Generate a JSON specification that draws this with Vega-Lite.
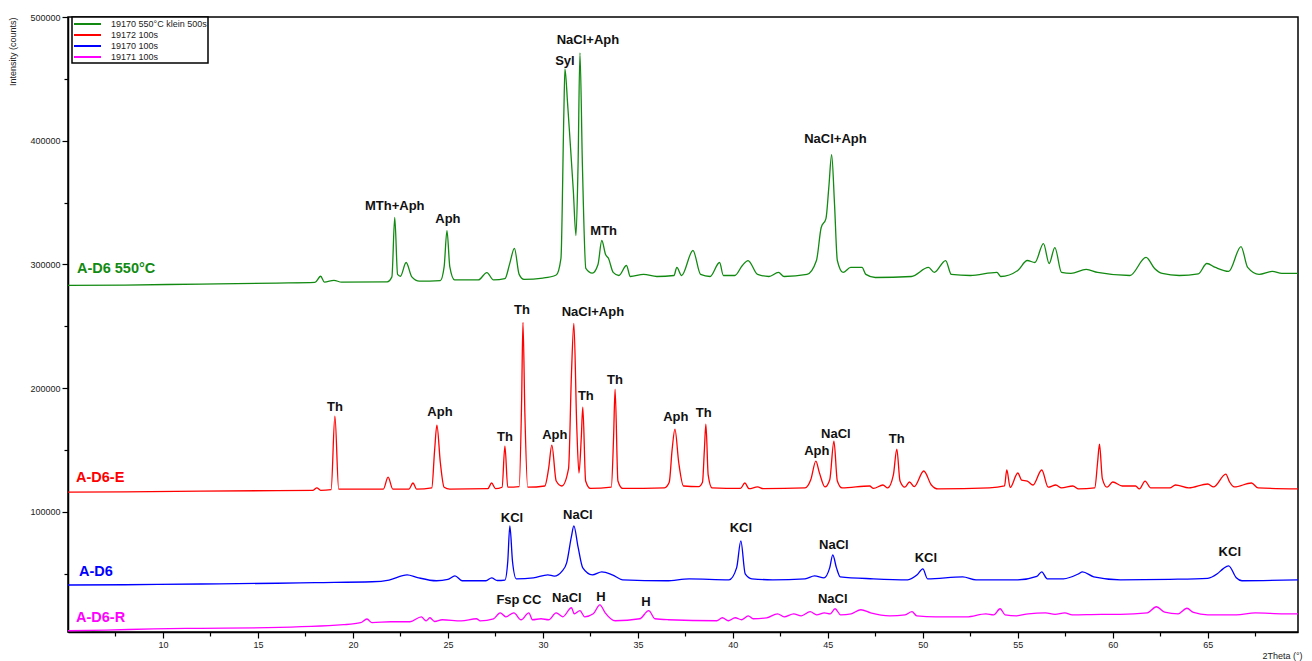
{
  "$schema": "https://vega.github.io/schema/vega-lite/v6.json",
  "width": 1230,
  "height": 615,
  "autosize": "none",
  "padding": {"left": 68, "top": 17, "right": 14, "bottom": 29},
  "background": "white",
  "config": {
    "view": {"stroke": "black", "strokeWidth": 1.5},
    "font": "Liberation Sans"
  },
  "datasets": {
    "names": [
      {"s": "G", "name": "19170 550°C klein 500s"},
      {"s": "R", "name": "19172 100s"},
      {"s": "B", "name": "19170 100s"},
      {"s": "M", "name": "19171 100s"}
    ],
    "xrd": [
      {"s":"G","x":5.0,"y":283100},{"s":"G","x":8.0,"y":283400},{"s":"G","x":12.0,"y":284200},{"s":"G","x":16.0,"y":285000},{"s":"G","x":18.0,"y":285500},{"s":"G","x":18.3,"y":290500},{"s":"G","x":18.5,"y":285800},{"s":"G","x":19.0,"y":287200},{"s":"G","x":19.4,"y":285700},{"s":"G","x":21.8,"y":286000},{"s":"G","x":22.05,"y":290000},{"s":"G","x":22.2,"y":338000},{"s":"G","x":22.35,"y":292000},{"s":"G","x":22.5,"y":290500},{"s":"G","x":22.8,"y":301600},{"s":"G","x":23.1,"y":290000},{"s":"G","x":23.5,"y":286500},{"s":"G","x":24.6,"y":287000},{"s":"G","x":24.8,"y":298000},{"s":"G","x":24.95,"y":327400},{"s":"G","x":25.1,"y":298000},{"s":"G","x":25.35,"y":287500},{"s":"G","x":26.6,"y":287500},{"s":"G","x":27.05,"y":293500},{"s":"G","x":27.4,"y":287500},{"s":"G","x":28.0,"y":288500},{"s":"G","x":28.25,"y":300500},{"s":"G","x":28.5,"y":313000},{"s":"G","x":28.75,"y":292000},{"s":"G","x":29.0,"y":288000},{"s":"G","x":30.0,"y":289000},{"s":"G","x":30.7,"y":291500},{"s":"G","x":30.95,"y":305000},{"s":"G","x":31.1,"y":420000},{"s":"G","x":31.16,"y":458100},{"s":"G","x":31.3,"y":430000},{"s":"G","x":31.42,"y":402400},{"s":"G","x":31.6,"y":360000},{"s":"G","x":31.74,"y":323400},{"s":"G","x":31.85,"y":380000},{"s":"G","x":31.95,"y":471000},{"s":"G","x":32.08,"y":380000},{"s":"G","x":32.26,"y":296800},{"s":"G","x":32.6,"y":293000},{"s":"G","x":32.9,"y":300000},{"s":"G","x":33.1,"y":319400},{"s":"G","x":33.3,"y":308000},{"s":"G","x":33.45,"y":305000},{"s":"G","x":33.7,"y":293600},{"s":"G","x":34.0,"y":291100},{"s":"G","x":34.4,"y":299200},{"s":"G","x":34.6,"y":290300},{"s":"G","x":35.3,"y":292000},{"s":"G","x":36.0,"y":290300},{"s":"G","x":36.9,"y":291100},{"s":"G","x":37.05,"y":297600},{"s":"G","x":37.3,"y":291100},{"s":"G","x":37.9,"y":311300},{"s":"G","x":38.3,"y":292000},{"s":"G","x":38.8,"y":290300},{"s":"G","x":39.3,"y":301600},{"s":"G","x":39.5,"y":291100},{"s":"G","x":40.1,"y":291100},{"s":"G","x":40.5,"y":299200},{"s":"G","x":40.8,"y":303200},{"s":"G","x":41.3,"y":292000},{"s":"G","x":41.9,"y":290300},{"s":"G","x":42.4,"y":293600},{"s":"G","x":42.7,"y":290300},{"s":"G","x":43.9,"y":292000},{"s":"G","x":44.4,"y":303200},{"s":"G","x":44.65,"y":329900},{"s":"G","x":44.9,"y":337100},{"s":"G","x":45.05,"y":362100},{"s":"G","x":45.2,"y":388700},{"s":"G","x":45.35,"y":349200},{"s":"G","x":45.5,"y":303200},{"s":"G","x":45.8,"y":293600},{"s":"G","x":46.2,"y":297600},{"s":"G","x":46.8,"y":297600},{"s":"G","x":47.0,"y":292000},{"s":"G","x":47.5,"y":289500},{"s":"G","x":49.4,"y":290300},{"s":"G","x":50.3,"y":297600},{"s":"G","x":50.6,"y":293600},{"s":"G","x":51.2,"y":303200},{"s":"G","x":51.5,"y":292000},{"s":"G","x":52.5,"y":291100},{"s":"G","x":53.9,"y":293600},{"s":"G","x":54.1,"y":290300},{"s":"G","x":55.0,"y":295200},{"s":"G","x":55.5,"y":303200},{"s":"G","x":55.9,"y":301600},{"s":"G","x":56.35,"y":316900},{"s":"G","x":56.65,"y":300800},{"s":"G","x":56.95,"y":313700},{"s":"G","x":57.3,"y":293600},{"s":"G","x":57.8,"y":292800},{"s":"G","x":58.6,"y":296000},{"s":"G","x":59.2,"y":293600},{"s":"G","x":60.9,"y":291100},{"s":"G","x":61.75,"y":305700},{"s":"G","x":62.2,"y":296800},{"s":"G","x":62.6,"y":292800},{"s":"G","x":63.5,"y":291100},{"s":"G","x":64.5,"y":292400},{"s":"G","x":64.95,"y":300800},{"s":"G","x":65.4,"y":297600},{"s":"G","x":66.1,"y":294400},{"s":"G","x":66.75,"y":314500},{"s":"G","x":67.1,"y":297600},{"s":"G","x":67.7,"y":292000},{"s":"G","x":68.4,"y":294400},{"s":"G","x":68.9,"y":292800},{"s":"G","x":69.75,"y":292800},

      {"s":"R","x":5.0,"y":116000},{"s":"R","x":8.0,"y":116300},{"s":"R","x":12.0,"y":116800},{"s":"R","x":16.0,"y":117300},{"s":"R","x":17.9,"y":117500},{"s":"R","x":18.1,"y":119500},{"s":"R","x":18.3,"y":117500},{"s":"R","x":18.85,"y":118000},{"s":"R","x":19.05,"y":177400},{"s":"R","x":19.25,"y":118500},{"s":"R","x":21.6,"y":118500},{"s":"R","x":21.85,"y":128200},{"s":"R","x":22.1,"y":118500},{"s":"R","x":22.95,"y":118500},{"s":"R","x":23.16,"y":123400},{"s":"R","x":23.35,"y":118500},{"s":"R","x":24.15,"y":119500},{"s":"R","x":24.3,"y":150000},{"s":"R","x":24.42,"y":170200},{"s":"R","x":24.6,"y":140000},{"s":"R","x":24.8,"y":120000},{"s":"R","x":25.1,"y":118500},{"s":"R","x":27.1,"y":118800},{"s":"R","x":27.3,"y":123400},{"s":"R","x":27.5,"y":118800},{"s":"R","x":27.85,"y":120000},{"s":"R","x":28.0,"y":153200},{"s":"R","x":28.15,"y":120000},{"s":"R","x":28.75,"y":120500},{"s":"R","x":28.88,"y":190000},{"s":"R","x":28.95,"y":253200},{"s":"R","x":29.05,"y":180000},{"s":"R","x":29.2,"y":120000},{"s":"R","x":30.1,"y":121000},{"s":"R","x":30.3,"y":135000},{"s":"R","x":30.47,"y":154000},{"s":"R","x":30.7,"y":125000},{"s":"R","x":31.0,"y":121000},{"s":"R","x":31.35,"y":135000},{"s":"R","x":31.5,"y":210000},{"s":"R","x":31.63,"y":252400},{"s":"R","x":31.78,"y":170000},{"s":"R","x":31.9,"y":131500},{"s":"R","x":32.02,"y":160000},{"s":"R","x":32.1,"y":184700},{"s":"R","x":32.25,"y":125000},{"s":"R","x":32.5,"y":119000},{"s":"R","x":33.6,"y":120000},{"s":"R","x":33.72,"y":160000},{"s":"R","x":33.8,"y":199200},{"s":"R","x":33.95,"y":125000},{"s":"R","x":34.2,"y":119000},{"s":"R","x":36.4,"y":119500},{"s":"R","x":36.65,"y":124000},{"s":"R","x":36.8,"y":150000},{"s":"R","x":36.95,"y":166900},{"s":"R","x":37.15,"y":140000},{"s":"R","x":37.4,"y":121000},{"s":"R","x":38.2,"y":120500},{"s":"R","x":38.4,"y":124000},{"s":"R","x":38.5,"y":150000},{"s":"R","x":38.58,"y":171000},{"s":"R","x":38.7,"y":130000},{"s":"R","x":38.9,"y":119500},{"s":"R","x":40.4,"y":119000},{"s":"R","x":40.63,"y":123400},{"s":"R","x":40.85,"y":118800},{"s":"R","x":41.3,"y":120200},{"s":"R","x":41.6,"y":118800},{"s":"R","x":43.8,"y":119400},{"s":"R","x":44.1,"y":126000},{"s":"R","x":44.37,"y":141100},{"s":"R","x":44.55,"y":132000},{"s":"R","x":44.85,"y":120200},{"s":"R","x":45.1,"y":126000},{"s":"R","x":45.32,"y":157300},{"s":"R","x":45.5,"y":125000},{"s":"R","x":45.75,"y":119400},{"s":"R","x":47.2,"y":121000},{"s":"R","x":47.4,"y":119000},{"s":"R","x":47.9,"y":121800},{"s":"R","x":48.15,"y":119500},{"s":"R","x":48.45,"y":130000},{"s":"R","x":48.63,"y":150800},{"s":"R","x":48.8,"y":125000},{"s":"R","x":49.05,"y":120000},{"s":"R","x":49.3,"y":124200},{"s":"R","x":49.55,"y":120500},{"s":"R","x":50.05,"y":133100},{"s":"R","x":50.45,"y":121800},{"s":"R","x":50.8,"y":118600},{"s":"R","x":53.5,"y":119400},{"s":"R","x":54.3,"y":121000},{"s":"R","x":54.42,"y":133900},{"s":"R","x":54.6,"y":119800},{"s":"R","x":55.0,"y":131500},{"s":"R","x":55.2,"y":125800},{"s":"R","x":55.5,"y":125000},{"s":"R","x":55.8,"y":121800},{"s":"R","x":56.26,"y":133900},{"s":"R","x":56.6,"y":120000},{"s":"R","x":57.0,"y":121800},{"s":"R","x":57.3,"y":119400},{"s":"R","x":57.9,"y":121000},{"s":"R","x":58.2,"y":118600},{"s":"R","x":59.05,"y":119400},{"s":"R","x":59.2,"y":140000},{"s":"R","x":59.3,"y":154800},{"s":"R","x":59.45,"y":127000},{"s":"R","x":59.7,"y":120000},{"s":"R","x":60.0,"y":124200},{"s":"R","x":60.5,"y":121000},{"s":"R","x":61.2,"y":121000},{"s":"R","x":61.4,"y":118600},{"s":"R","x":61.7,"y":125000},{"s":"R","x":62.0,"y":119400},{"s":"R","x":63.0,"y":119400},{"s":"R","x":63.3,"y":121800},{"s":"R","x":64.0,"y":119400},{"s":"R","x":65.0,"y":122600},{"s":"R","x":65.3,"y":120200},{"s":"R","x":65.95,"y":130600},{"s":"R","x":66.15,"y":124200},{"s":"R","x":66.4,"y":120200},{"s":"R","x":67.3,"y":123400},{"s":"R","x":67.65,"y":119400},{"s":"R","x":69.75,"y":118600},

      {"s":"B","x":5.0,"y":41000},{"s":"B","x":8.0,"y":41200},{"s":"B","x":12.0,"y":41800},{"s":"B","x":16.0,"y":42400},{"s":"B","x":18.0,"y":42900},{"s":"B","x":21.0,"y":43600},{"s":"B","x":21.9,"y":45000},{"s":"B","x":22.85,"y":49200},{"s":"B","x":23.4,"y":47000},{"s":"B","x":24.4,"y":44400},{"s":"B","x":25.0,"y":45500},{"s":"B","x":25.37,"y":48400},{"s":"B","x":25.75,"y":44400},{"s":"B","x":27.0,"y":44400},{"s":"B","x":27.3,"y":46800},{"s":"B","x":27.6,"y":44600},{"s":"B","x":28.0,"y":45000},{"s":"B","x":28.15,"y":60000},{"s":"B","x":28.26,"y":88700},{"s":"B","x":28.4,"y":60000},{"s":"B","x":28.6,"y":46000},{"s":"B","x":29.5,"y":46800},{"s":"B","x":30.26,"y":49200},{"s":"B","x":30.6,"y":48200},{"s":"B","x":31.0,"y":52000},{"s":"B","x":31.25,"y":58900},{"s":"B","x":31.5,"y":80000},{"s":"B","x":31.63,"y":88700},{"s":"B","x":31.85,"y":71800},{"s":"B","x":32.1,"y":54800},{"s":"B","x":32.6,"y":49200},{"s":"B","x":33.1,"y":51600},{"s":"B","x":33.65,"y":49200},{"s":"B","x":34.2,"y":45200},{"s":"B","x":36.5,"y":44400},{"s":"B","x":37.7,"y":46000},{"s":"B","x":39.8,"y":45200},{"s":"B","x":40.2,"y":55000},{"s":"B","x":40.42,"y":76600},{"s":"B","x":40.65,"y":50000},{"s":"B","x":41.0,"y":46000},{"s":"B","x":42.1,"y":45200},{"s":"B","x":43.8,"y":46000},{"s":"B","x":44.3,"y":48400},{"s":"B","x":44.8,"y":46800},{"s":"B","x":45.1,"y":55000},{"s":"B","x":45.26,"y":65300},{"s":"B","x":45.45,"y":55000},{"s":"B","x":45.65,"y":47600},{"s":"B","x":47.4,"y":46000},{"s":"B","x":49.2,"y":45200},{"s":"B","x":49.7,"y":49200},{"s":"B","x":50.0,"y":54000},{"s":"B","x":50.25,"y":46000},{"s":"B","x":52.1,"y":47600},{"s":"B","x":52.8,"y":45200},{"s":"B","x":55.0,"y":45200},{"s":"B","x":56.0,"y":48000},{"s":"B","x":56.26,"y":51600},{"s":"B","x":56.55,"y":46000},{"s":"B","x":57.4,"y":46000},{"s":"B","x":58.2,"y":50000},{"s":"B","x":58.4,"y":51600},{"s":"B","x":59.0,"y":47600},{"s":"B","x":60.4,"y":45200},{"s":"B","x":63.0,"y":45600},{"s":"B","x":65.0,"y":46400},{"s":"B","x":65.5,"y":50000},{"s":"B","x":65.8,"y":54000},{"s":"B","x":66.1,"y":56500},{"s":"B","x":66.5,"y":46800},{"s":"B","x":66.8,"y":44400},{"s":"B","x":69.75,"y":45200},

      {"s":"M","x":5.0,"y":4000},{"s":"M","x":7.0,"y":4500},{"s":"M","x":9.5,"y":5600},{"s":"M","x":12.0,"y":6000},{"s":"M","x":15.5,"y":6500},{"s":"M","x":19.5,"y":8900},{"s":"M","x":20.4,"y":10500},{"s":"M","x":20.74,"y":13500},{"s":"M","x":21.0,"y":10500},{"s":"M","x":22.0,"y":11300},{"s":"M","x":23.0,"y":11300},{"s":"M","x":23.6,"y":15300},{"s":"M","x":23.85,"y":12000},{"s":"M","x":24.05,"y":14500},{"s":"M","x":24.3,"y":11500},{"s":"M","x":24.7,"y":12900},{"s":"M","x":25.7,"y":12000},{"s":"M","x":26.5,"y":13700},{"s":"M","x":26.7,"y":12000},{"s":"M","x":27.4,"y":13700},{"s":"M","x":27.75,"y":18500},{"s":"M","x":28.05,"y":15300},{"s":"M","x":28.47,"y":18500},{"s":"M","x":28.85,"y":12900},{"s":"M","x":29.26,"y":18500},{"s":"M","x":29.45,"y":12900},{"s":"M","x":29.9,"y":13700},{"s":"M","x":30.3,"y":12900},{"s":"M","x":30.7,"y":18500},{"s":"M","x":31.05,"y":15300},{"s":"M","x":31.5,"y":22600},{"s":"M","x":31.65,"y":17700},{"s":"M","x":31.95,"y":20200},{"s":"M","x":32.2,"y":15300},{"s":"M","x":32.65,"y":17700},{"s":"M","x":33.0,"y":25000},{"s":"M","x":33.28,"y":18500},{"s":"M","x":33.8,"y":12100},{"s":"M","x":35.1,"y":13700},{"s":"M","x":35.57,"y":20200},{"s":"M","x":35.9,"y":13700},{"s":"M","x":36.6,"y":12900},{"s":"M","x":39.15,"y":12100},{"s":"M","x":39.45,"y":14500},{"s":"M","x":39.76,"y":12100},{"s":"M","x":40.12,"y":14500},{"s":"M","x":40.47,"y":12900},{"s":"M","x":40.81,"y":16100},{"s":"M","x":41.07,"y":13700},{"s":"M","x":41.78,"y":14500},{"s":"M","x":42.35,"y":17700},{"s":"M","x":42.7,"y":15300},{"s":"M","x":43.2,"y":17700},{"s":"M","x":43.6,"y":16100},{"s":"M","x":44.07,"y":19400},{"s":"M","x":44.41,"y":16900},{"s":"M","x":44.82,"y":18500},{"s":"M","x":45.12,"y":17700},{"s":"M","x":45.38,"y":21800},{"s":"M","x":45.67,"y":16900},{"s":"M","x":46.23,"y":17700},{"s":"M","x":46.74,"y":21000},{"s":"M","x":47.25,"y":18500},{"s":"M","x":48.26,"y":16100},{"s":"M","x":49.07,"y":16900},{"s":"M","x":49.43,"y":19400},{"s":"M","x":49.68,"y":16100},{"s":"M","x":50.69,"y":15300},{"s":"M","x":52.31,"y":15300},{"s":"M","x":53.32,"y":17700},{"s":"M","x":53.73,"y":16900},{"s":"M","x":54.07,"y":21800},{"s":"M","x":54.33,"y":16900},{"s":"M","x":54.94,"y":16100},{"s":"M","x":55.55,"y":17700},{"s":"M","x":56.46,"y":18500},{"s":"M","x":56.96,"y":17300},{"s":"M","x":57.47,"y":18500},{"s":"M","x":57.87,"y":16900},{"s":"M","x":59.39,"y":17300},{"s":"M","x":60.4,"y":17300},{"s":"M","x":61.82,"y":18500},{"s":"M","x":62.3,"y":23400},{"s":"M","x":62.73,"y":19000},{"s":"M","x":63.44,"y":17700},{"s":"M","x":63.9,"y":22200},{"s":"M","x":64.25,"y":18800},{"s":"M","x":65.0,"y":16900},{"s":"M","x":66.5,"y":16900},{"s":"M","x":67.5,"y":18500},{"s":"M","x":69.0,"y":17700},{"s":"M","x":69.75,"y":17700}
    ],
    "peaks": [
      {"x":22.2,"y":347600,"label":"MTh+Aph"},{"x":25.0,"y":337100,"label":"Aph"},{"x":31.16,"y":464600,"label":"Syl"},{"x":32.37,"y":481500,"label":"NaCl+Aph"},{"x":33.2,"y":327400,"label":"MTh"},{"x":45.4,"y":401600,"label":"NaCl+Aph"},
      {"x":19.05,"y":184700,"label":"Th"},{"x":24.58,"y":180700,"label":"Aph"},{"x":28.0,"y":160500,"label":"Th"},{"x":28.9,"y":262900,"label":"Th"},{"x":32.63,"y":261300,"label":"NaCl+Aph"},{"x":30.63,"y":162100,"label":"Aph"},{"x":32.26,"y":193600,"label":"Th"},{"x":33.79,"y":206500,"label":"Th"},{"x":37.0,"y":176600,"label":"Aph"},{"x":38.47,"y":179800,"label":"Th"},{"x":44.42,"y":149200,"label":"Aph"},{"x":45.42,"y":162900,"label":"NaCl"},{"x":48.63,"y":158900,"label":"Th"},
      {"x":28.37,"y":95200,"label":"KCl"},{"x":31.84,"y":97600,"label":"NaCl"},{"x":40.42,"y":87100,"label":"KCl"},{"x":45.32,"y":73400,"label":"NaCl"},{"x":50.16,"y":62900,"label":"KCl"},{"x":66.16,"y":67700,"label":"KCl"},
      {"x":28.16,"y":29000,"label":"Fsp"},{"x":29.42,"y":29000,"label":"CC"},{"x":31.26,"y":30600,"label":"NaCl"},{"x":33.05,"y":31500,"label":"H"},{"x":35.42,"y":27400,"label":"H"},{"x":45.26,"y":29800,"label":"NaCl"}
    ],
    "samples": [
      {"s":"G","x":5.47,"y":296000,"label":"A-D6 550°C"},
      {"s":"R","x":5.42,"y":127400,"label":"A-D6-E"},
      {"s":"B","x":5.58,"y":51600,"label":"A-D6"},
      {"s":"M","x":5.42,"y":14500,"label":"A-D6-R"}
    ]
  },
  "encoding": {
    "x": {
      "field": "x", "type": "quantitative",
      "scale": {"domain": [5, 69.75], "nice": false, "zero": false},
      "axis": {
        "values": [7.5,10,12.5,15,17.5,20,22.5,25,27.5,30,32.5,35,37.5,40,42.5,45,47.5,50,52.5,55,57.5,60,62.5,65,67.5],
        "labelExpr": "datum.value % 5 === 0 ? datum.label : ''",
        "grid": false,
        "tickColor": "black",
        "tickWidth": 1.2,
        "tickSize": {"condition": {"test": "datum.value % 5 === 0", "value": 6}, "value": 4},
        "domainColor": "black",
        "domainWidth": 1.5,
        "labelFontSize": 9,
        "labelColor": "#222",
        "labelPadding": 2,
        "labelOverlap": false,
        "title": "2Theta (°)",
        "titleAnchor": "end",
        "titleAlign": "right",
        "titleFontSize": 9,
        "titleFontWeight": "normal",
        "titleColor": "#222",
        "titlePadding": 2,
        "titleX": 1234
      }
    },
    "y": {
      "field": "y", "type": "quantitative",
      "scale": {"domain": [3000, 500000], "nice": false, "zero": false},
      "axis": {
        "values": [50000,100000,150000,200000,250000,300000,350000,400000,450000,500000],
        "format": "d",
        "labelExpr": "datum.value % 100000 === 0 ? datum.label : ''",
        "grid": false,
        "tickColor": "black",
        "tickWidth": 1.2,
        "tickSize": {"condition": {"test": "datum.value % 100000 === 0", "value": 6}, "value": 4},
        "domainColor": "black",
        "domainWidth": 1.5,
        "labelFontSize": 9,
        "labelColor": "#222",
        "labelPadding": 2,
        "labelOverlap": false,
        "title": "Intensity (counts)",
        "titleAnchor": "end",
        "titleFontSize": 9,
        "titleFontWeight": "normal",
        "titleColor": "#222",
        "titlePadding": 12
      }
    }
  },
  "layer": [
    {
      "data": {"name": "xrd"},
      "transform": [{"lookup": "s", "from": {"data": {"name": "names"}, "key": "s", "fields": ["name"]}}],
      "mark": {"type": "line", "strokeWidth": 1.3, "interpolate": "monotone"},
      "encoding": {
        "color": {
          "field": "name", "type": "nominal",
          "scale": {
            "domain": ["19170 550°C klein 500s", "19172 100s", "19170 100s", "19171 100s"],
            "range": ["#128a12", "#ff0000", "#0000ff", "#ff00ff"]
          },
          "legend": {
            "orient": "none",
            "legendX": 4,
            "legendY": 0,
            "title": null,
            "strokeColor": "black",
            "fillColor": "white",
            "padding": 1,
            "symbolType": "M-1,0H4.4",
            "symbolSize": 100,
            "symbolStrokeWidth": 2,
            "labelFontSize": 9,
            "labelColor": "#222",
            "labelOffset": 26,
            "rowPadding": 0,
            "encode": {"legend": {"update": {"strokeWidth": {"value": 1.5}}}}
          }
        }
      }
    },
    {
      "data": {"name": "peaks"},
      "mark": {"type": "text", "fontSize": 13, "fontWeight": "bold", "align": "center", "baseline": "middle", "color": "#111"},
      "encoding": {"text": {"field": "label"}}
    },
    {
      "data": {"name": "samples"},
      "transform": [{"lookup": "s", "from": {"data": {"name": "names"}, "key": "s", "fields": ["name"]}}],
      "mark": {"type": "text", "fontSize": 14.5, "fontWeight": "bold", "align": "left", "baseline": "middle"},
      "encoding": {
        "text": {"field": "label"},
        "color": {"field": "name", "type": "nominal", "legend": null}
      }
    }
  ]
}
